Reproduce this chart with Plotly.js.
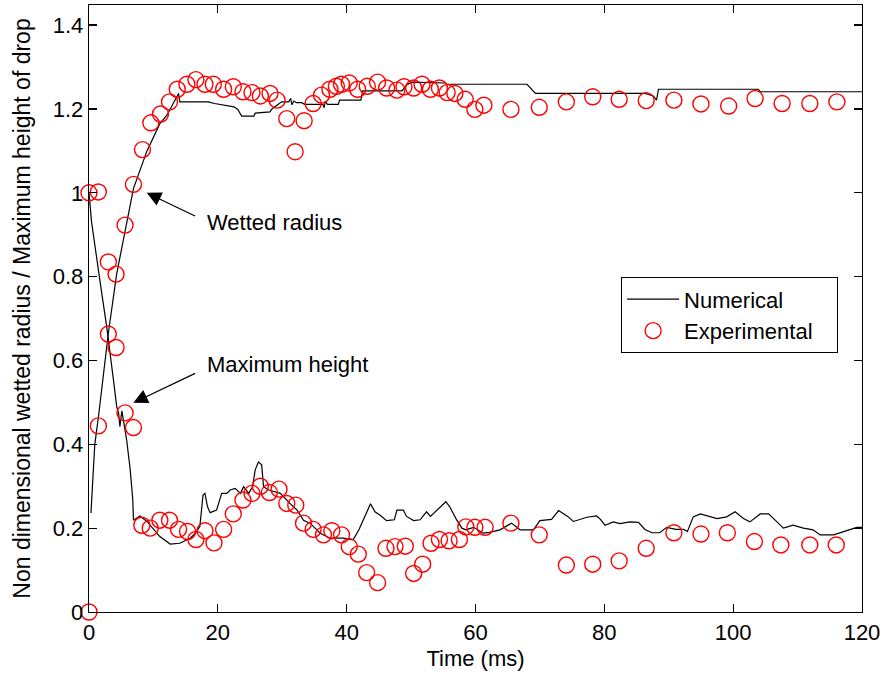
<!DOCTYPE html>
<html>
<head>
<meta charset="utf-8">
<script src="https://cdn.plot.ly/plotly-3.0.1.min.js"></script>
<style>html,body{margin:0;padding:0;background:#fff;}#chart{width:884px;height:679px;}</style>
</head>
<body>
<div id="chart"></div>
<script>
// Numerical: wetted radius
const numRadiusT = [0.3,0.6,0.9,1.5,3.0,4.3,5.3,6.9,9.0,11.0,12.1,13.1,13.9,14.1,18.5,19.5,21.4,22.5,23.1,23.7,25.6,25.8,28.1,28.4,29.9,31.0,31.3,31.5,31.8,32.2,33.0,33.5,36.3,36.5,36.7,37.0,38.7,38.9,42.2,42.5,48.6,49.3,50.1,55.3,55.5,68.0,69.3,86.3,87.6,88.1,88.4,103.9,104.2,120];
const numRadius  = [0.236,0.31,0.40,0.47,0.665,0.807,0.887,1.01,1.10,1.165,1.185,1.213,1.237,1.217,1.217,1.213,1.209,1.205,1.199,1.183,1.183,1.19,1.193,1.2,1.217,1.217,1.225,1.21,1.219,1.215,1.215,1.211,1.211,1.203,1.219,1.211,1.211,1.221,1.221,1.243,1.243,1.257,1.264,1.262,1.259,1.259,1.237,1.237,1.231,1.221,1.247,1.247,1.241,1.241];
// Numerical: maximum height
const numHeightT = [0,0.4,1.7,2.75,3.8,4.3,4.6,4.8,5.1,5.85,6.4,6.8,6.9,7.9,9.0,11.0,12.6,14.1,15.7,16.4,17.2,17.7,18.0,18.4,18.8,19.8,20.6,21.4,21.9,22.7,23.5,24.0,24.8,25.4,25.8,26.3,26.8,27.1,27.9,29.7,31.2,32.3,33.3,34.3,35.9,37.4,39.5,41.0,41.9,43.1,43.7,44.4,45.2,46.2,47.4,47.8,48.8,49.3,50.4,51.4,52.4,53.0,54.0,55.4,56.0,57.1,57.9,58.5,59.7,61.2,62.2,63.8,65.6,66.9,69.0,70.0,71.8,72.9,74.3,75.2,77.3,78.8,79.4,80.1,81.4,82.4,84.0,85.3,86.3,87.4,88.6,89.7,91.1,92.3,92.9,93.8,94.9,96.2,97.5,99.0,100.3,101.6,102.6,104.2,105.5,106.8,107.8,109.3,110.9,112.4,113.5,115.6,118.1,119.2,120];
const numHeight  = [1.0,0.93,0.79,0.68,0.553,0.49,0.474,0.442,0.48,0.41,0.339,0.267,0.219,0.229,0.216,0.18,0.162,0.164,0.176,0.186,0.203,0.279,0.283,0.251,0.237,0.243,0.283,0.283,0.291,0.295,0.283,0.299,0.283,0.299,0.339,0.358,0.351,0.299,0.291,0.283,0.259,0.243,0.219,0.212,0.188,0.176,0.176,0.172,0.196,0.239,0.258,0.239,0.231,0.218,0.22,0.243,0.243,0.228,0.218,0.22,0.239,0.228,0.243,0.263,0.251,0.219,0.2,0.196,0.202,0.188,0.19,0.196,0.212,0.196,0.196,0.218,0.221,0.242,0.228,0.216,0.226,0.229,0.221,0.207,0.215,0.211,0.215,0.214,0.197,0.189,0.189,0.202,0.197,0.197,0.192,0.227,0.234,0.229,0.223,0.227,0.239,0.223,0.215,0.234,0.234,0.215,0.2,0.207,0.2,0.196,0.184,0.184,0.197,0.202,0.202];
// Experimental: wetted radius
const expRadiusT = [0,1.45,3.0,4.2,5.6,6.9,8.3,9.6,11.1,12.5,13.7,15.2,16.6,18.0,19.3,20.9,22.4,23.9,25.3,26.6,28.1,29.2,30.7,32.0,33.4,34.8,36.1,37.4,38.4,39.2,40.4,41.7,43.2,44.8,46.2,47.8,48.9,50.4,51.7,53.0,54.4,55.6,56.8,58.4,59.9,61.3,65.5,69.9,74.1,78.2,82.3,86.5,90.8,95.0,99.3,103.4,107.6,111.9,116.1];
const expRadius  = [0,0.444,0.663,0.806,0.923,1.02,1.103,1.167,1.188,1.217,1.247,1.259,1.27,1.259,1.259,1.247,1.253,1.241,1.239,1.231,1.237,1.221,1.177,1.098,1.172,1.213,1.233,1.247,1.254,1.259,1.262,1.247,1.254,1.264,1.25,1.245,1.253,1.25,1.259,1.247,1.25,1.239,1.237,1.223,1.199,1.209,1.199,1.204,1.217,1.229,1.223,1.22,1.221,1.212,1.207,1.225,1.213,1.213,1.217];
// Experimental: maximum height
const expHeightT = [0,1.45,3.0,4.2,5.6,6.9,8.2,9.5,11.0,12.5,13.9,15.3,16.6,18.0,19.4,20.9,22.4,23.9,25.3,26.6,28.0,29.5,30.7,32.1,33.3,34.8,36.4,37.7,39.2,40.4,41.8,43.1,44.8,46.1,47.5,49.1,50.4,51.8,53.1,54.4,55.9,57.5,58.5,59.9,61.5,65.5,69.9,74.1,78.2,82.3,86.5,90.8,95.0,99.1,103.3,107.4,111.9,116.0];
const expHeight  = [1.0,1.002,0.835,0.631,0.475,0.44,0.207,0.2,0.219,0.219,0.197,0.192,0.173,0.194,0.165,0.197,0.234,0.267,0.283,0.3,0.285,0.293,0.259,0.255,0.212,0.197,0.184,0.194,0.184,0.156,0.138,0.094,0.07,0.152,0.156,0.157,0.092,0.114,0.164,0.173,0.17,0.173,0.203,0.202,0.202,0.212,0.184,0.112,0.114,0.122,0.152,0.189,0.186,0.189,0.168,0.16,0.16,0.16];

const FONT = 'Liberation Sans, Arial, sans-serif';
const lineStyle = {color:'#000', width:1.2};
const markerStyle = {symbol:'circle-open', size:16, color:'#ff0000', line:{width:1.4, color:'#ff0000'}};
const PAD = '\u00a0\u00a0\u00a0';

const traces = [
  {x:numRadiusT, y:numRadius, mode:'lines', line:lineStyle, name:'Numerical', legendgroup:'num', showlegend:true},
  {x:numHeightT, y:numHeight, mode:'lines', line:lineStyle, name:'Numerical', legendgroup:'num', showlegend:false},
  {x:expRadiusT, y:expRadius, mode:'markers', marker:markerStyle, name:'Experimental' + PAD, legendgroup:'exp', showlegend:true, cliponaxis:false},
  {x:expHeightT, y:expHeight, mode:'markers', marker:markerStyle, name:'Experimental', legendgroup:'exp', showlegend:false, cliponaxis:false}
];

const axisCommon = {
  showline:true, linecolor:'#000', linewidth:1.3, mirror:'ticks',
  ticks:'inside', ticklen:8, tickwidth:1.3, tickcolor:'#000',
  showgrid:false, zeroline:false,
  tickfont:{family:FONT, size:22, color:'#000'}
};

const layout = {
  width:884, height:679,
  margin:{l:89, r:22, t:5, b:67},
  paper_bgcolor:'#fff', plot_bgcolor:'#fff',
  font:{family:FONT, size:22, color:'#000'},
  xaxis:Object.assign({}, axisCommon, {range:[0,120], dtick:20, tick0:0,
    title:{text:'Time (ms)', font:{family:FONT, size:22, color:'#000'}, standoff:7}}),
  yaxis:Object.assign({}, axisCommon, {range:[0,1.448], dtick:0.2, tick0:0,
    title:{text:'Non dimensional wetted radius / Maximum height of drop', font:{family:FONT, size:23, color:'#000'}, standoff:15}}),
  showlegend:true,
  legend:{x:0.688, y:0.552, xanchor:'left', yanchor:'top', bordercolor:'#000', borderwidth:1.3,
    bgcolor:'#fff', font:{family:FONT, size:22, color:'#000'}, itemwidth:52, tracegroupgap:0},
  annotations:[
    {x:8.96, y:1.0, ax:16.7, ay:0.943, axref:'x', ayref:'y', xref:'x', yref:'y', text:'', showarrow:true, arrowhead:2, arrowsize:2.4, arrowwidth:1.2, arrowcolor:'#000'},
    {x:18.0, y:0.93, xref:'x', yref:'y', text:'Wetted radius', showarrow:false, xanchor:'left', yanchor:'middle', font:{family:FONT, size:22, color:'#000'}},
    {x:6.88, y:0.499, ax:16.7, ay:0.571, axref:'x', ayref:'y', xref:'x', yref:'y', text:'', showarrow:true, arrowhead:2, arrowsize:2.4, arrowwidth:1.2, arrowcolor:'#000'},
    {x:18.0, y:0.591, xref:'x', yref:'y', text:'Maximum height', showarrow:false, xanchor:'left', yanchor:'middle', font:{family:FONT, size:22, color:'#000'}}
  ]
};

Plotly.newPlot('chart', traces, layout, {displayModeBar:false, staticPlot:true});
</script>
</body>
</html>
